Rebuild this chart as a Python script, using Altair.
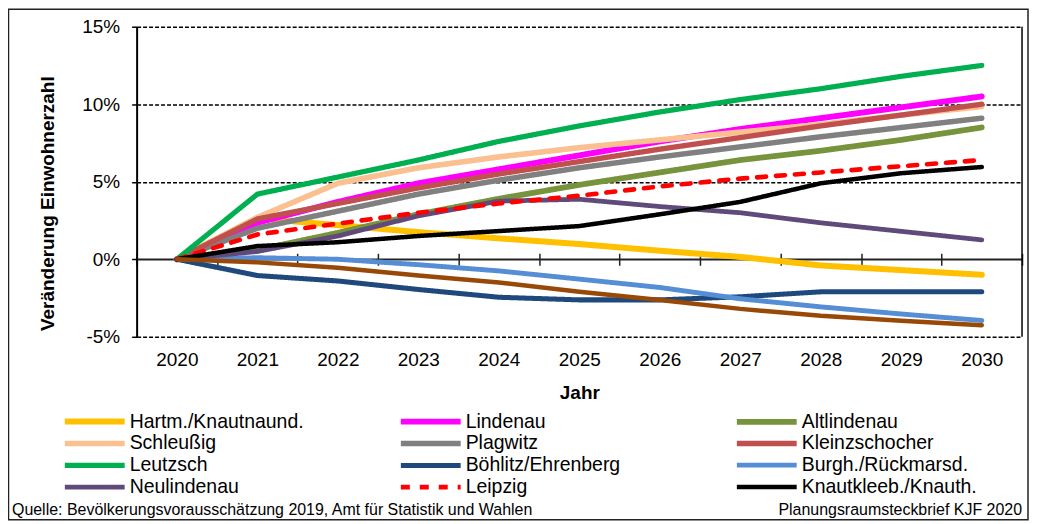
import altair as alt
import pandas as pd

years = [str(y) for y in range(2020, 2031)]

series_names = [
    "Hartm./Knautnaund.", "Lindenau", "Altlindenau",
    "Schleußig", "Plagwitz", "Kleinzschocher",
    "Leutzsch", "Böhlitz/Ehrenberg", "Burgh./Rückmarsd.",
    "Neulindenau", "Leipzig", "Knautkleeb./Knauth.",
]
series_colors = [
    "#FFC000", "#FF00FF", "#77933C",
    "#FAC090", "#808080", "#C0504D",
    "#00B050", "#1F497D", "#558ED5",
    "#604A7B", "#FF0000", "#000000",
]
series_widths = [6, 4.5, 4, 5.5, 4.5, 5, 4.5, 4, 4.5, 4, 5, 4]
series_dash = [[1, 0]] * 10 + [[9, 10]] + [[1, 0]]

hartm = [0, 2.65, 2.2, 1.75, 1.35, 0.98, 0.55, 0.15, -0.4, -0.7, -1.0]
lindenau = [0, 2.35, 3.7, 4.9, 5.8, 6.7, 7.6, 8.4, 9.1, 9.8, 10.5]
altlindenau = [0, 0.6, 1.7, 2.9, 3.9, 4.8, 5.6, 6.4, 7.0, 7.7, 8.5]
schleussig = [0, 2.7, 4.9, 5.9, 6.6, 7.2, 7.7, 8.2, 8.7, 9.3, 9.85]
plagwitz = [0, 2.0, 3.1, 4.2, 5.1, 5.9, 6.6, 7.25, 7.9, 8.5, 9.1]
kleinzschocher = [0, 2.6, 3.6, 4.6, 5.5, 6.3, 7.1, 7.85, 8.6, 9.3, 10.0]
leutzsch = [0, 4.2, 5.3, 6.4, 7.6, 8.6, 9.5, 10.3, 11.0, 11.8, 12.5]
boehlitz = [0, -1.05, -1.4, -1.95, -2.45, -2.62, -2.62, -2.42, -2.1, -2.1, -2.1]
burgh = [0, 0.1, 0.0, -0.35, -0.75, -1.28, -1.82, -2.55, -3.07, -3.53, -3.95]
neulindenau = [0, 0.5, 1.5, 2.8, 3.75, 3.87, 3.4, 3.0, 2.35, 1.8, 1.25]
leipzig = [0, 1.6, 2.3, 3.0, 3.6, 4.1, 4.7, 5.2, 5.6, 6.0, 6.4]
knautkleeb = [0, 0.85, 1.1, 1.5, 1.82, 2.14, 2.9, 3.7, 4.9, 5.55, 5.95]
unlabelled_brown = [0, -0.2, -0.55, -1.05, -1.5, -2.1, -2.63, -3.2, -3.64, -3.96, -4.25]

series_values = [hartm, lindenau, altlindenau, schleussig, plagwitz, kleinzschocher,
                 leutzsch, boehlitz, burgh, neulindenau, leipzig, knautkleeb]

y_ticks = [-5, 0, 5, 10, 15]
footer_left = "Quelle:  Bevölkerungsvorausschätzung 2019, Amt für Statistik und Wahlen"
footer_right = "Planungsraumsteckbrief KJF 2020"
y_title = "Veränderung Einwohnerzahl"
x_title = "Jahr"

rows = []
for name, vals in zip(series_names, series_values):
    for yr, v in zip(years, vals):
        rows.append({"Jahr": yr, "Wert": v, "Gebiet": name})
df = pd.DataFrame(rows)
df_brown = pd.DataFrame({"Jahr": years, "Wert": unlabelled_brown})

W, H = 888, 311
ymin, ymax = -5, 15
zero_px = H * (ymax - 0) / (ymax - ymin)
FONT = "Liberation Sans"

x_enc = alt.X(
    "Jahr:O",
    scale=alt.Scale(type="band", paddingInner=0, paddingOuter=0),
    axis=alt.Axis(
        orient="bottom", offset=(zero_px - 6) - H, tickSize=12, tickBand="extent",
        domain=False, grid=False, labelAngle=0, labelPadding=86,
        labelFontSize=19, labelColor="black", tickColor="#222", tickWidth=1.5,
        title=x_title, titleFontSize=19, titleFontWeight="bold", titleColor="black",
        titleY=140, titleBaseline="middle",
    ),
)
y_enc = alt.Y(
    "Wert:Q",
    scale=alt.Scale(domain=[ymin, ymax], nice=False, zero=False),
    axis=alt.Axis(
        values=y_ticks, labelExpr="datum.value + '%'", labelFontSize=19,
        labelColor="black", labelPadding=12, tickSize=5, tickColor="black",
        tickWidth=1.5, domainColor="black", domainWidth=2,
        grid=True,
        gridDash={"condition": {"test": "datum.value === 0", "value": []}, "value": [4, 2]},
        gridColor={"condition": {"test": "datum.value === 0", "value": "#222"}, "value": "black"},
        gridWidth={"condition": {"test": "datum.value === 0", "value": 2.2}, "value": 1.4},
        title=y_title, titleFontSize=19, titleFontWeight="bold", titleColor="black",
        titleX=-89, titleY=177, titleBaseline="middle", titleAlign="center",
    ),
)

lines = alt.Chart(df).mark_line(strokeCap="round", strokeJoin="round").encode(
    x=x_enc,
    y=y_enc,
    color=alt.Color("Gebiet:N", scale=alt.Scale(domain=series_names, range=series_colors),
                    sort=series_names, legend=alt.Legend(title=None)),
    strokeDash=alt.StrokeDash("Gebiet:N", scale=alt.Scale(domain=series_names, range=series_dash),
                              sort=series_names, legend=alt.Legend(title=None)),
    strokeWidth=alt.StrokeWidth("Gebiet:N", scale=alt.Scale(domain=series_names, range=series_widths),
                                legend=None),
)

brown = alt.Chart(df_brown).mark_line(color="#984807", strokeWidth=4.5, strokeCap="round").encode(
    x="Jahr:O", y="Wert:Q"
)

one = pd.DataFrame({"a": [1]})
right_border = alt.Chart(one).mark_rule(color="black", strokeWidth=1.5).encode(
    x=alt.value(W), y=alt.value(0), y2=alt.value(H)
)
frame = alt.Chart(one).mark_rect(fillOpacity=0, stroke="#222", strokeWidth=1.5).encode(
    x=alt.value(-128.5), x2=alt.value(W + 6), y=alt.value(-17.5), y2=alt.value(494.5)
)
foot_l = alt.Chart(pd.DataFrame({"t": [footer_left]})).mark_text(
    align="left", baseline="middle", fontSize=16, font=FONT, color="black"
).encode(text="t:N", x=alt.value(-125), y=alt.value(485))
foot_r = alt.Chart(pd.DataFrame({"t": [footer_right]})).mark_text(
    align="right", baseline="middle", fontSize=16, font=FONT, color="black"
).encode(text="t:N", x=alt.value(W), y=alt.value(485))

chart = alt.layer(lines, brown, right_border, frame, foot_l, foot_r).properties(
    width=W, height=H,
    autosize=alt.AutoSizeParams(type="none"),
    padding={"left": 129, "top": 18, "right": 7, "bottom": 184},
).configure(font=FONT).configure_view(stroke=None).configure_legend(
    orient="none", legendX=-75, legendY=386, direction="horizontal", columns=3,
    gridAlign="all", columnPadding=84, rowPadding=-2.6, padding=0,
    symbolType="M-1,0H7.57", symbolSize=196, symbolStrokeWidth=5,
    labelFontSize=19.5, labelColor="black", labelOffset=48, labelFont=FONT, labelLimit=400,
)

chart.save("out.html", embed_options={"renderer": "svg", "actions": False})
